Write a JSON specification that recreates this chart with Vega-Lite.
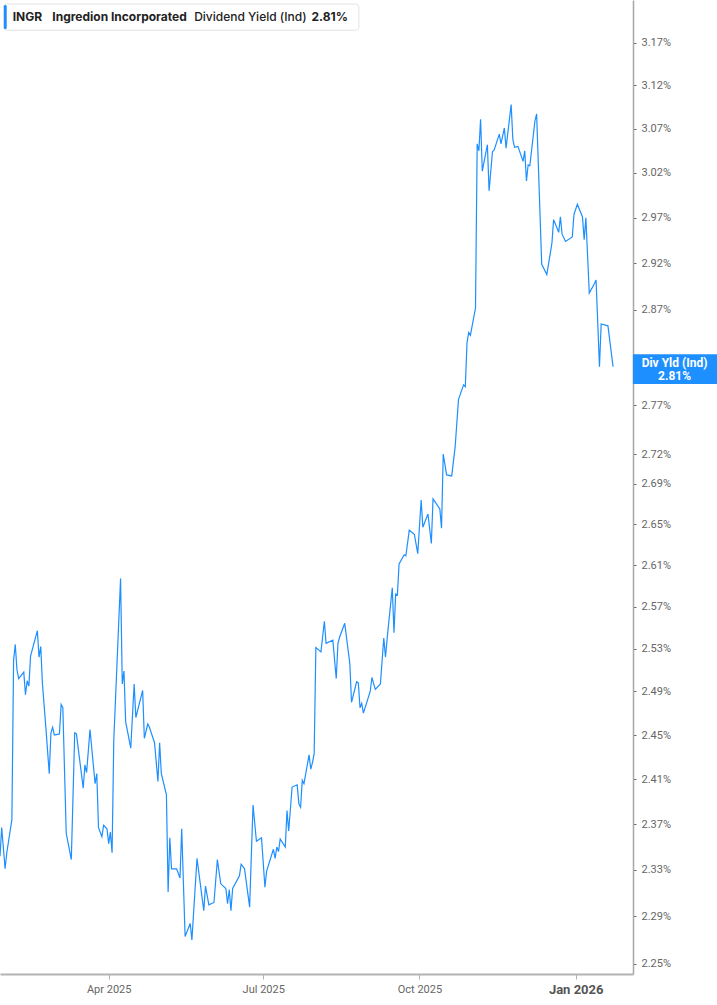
{
  "$schema": "https://vega.github.io/schema/vega-lite/v6.json",
  "width": 633,
  "height": 974,
  "autosize": "none",
  "padding": {"left": 0, "top": 0, "right": 84, "bottom": 31},
  "background": "white",
  "config": {"view": {"stroke": null}, "font": "Roboto"},
  "datasets": {
    "yield": [
      {"d": "2025-01-27", "v": 2.342}, {"d": "2025-01-28", "v": 2.367}, {"d": "2025-01-30", "v": 2.331},
      {"d": "2025-01-31", "v": 2.345}, {"d": "2025-02-03", "v": 2.374}, {"d": "2025-02-04", "v": 2.519},
      {"d": "2025-02-05", "v": 2.534}, {"d": "2025-02-06", "v": 2.510}, {"d": "2025-02-07", "v": 2.502},
      {"d": "2025-02-10", "v": 2.508}, {"d": "2025-02-11", "v": 2.487}, {"d": "2025-02-12", "v": 2.500},
      {"d": "2025-02-13", "v": 2.495}, {"d": "2025-02-14", "v": 2.523}, {"d": "2025-02-18", "v": 2.547},
      {"d": "2025-02-19", "v": 2.522}, {"d": "2025-02-20", "v": 2.532}, {"d": "2025-02-21", "v": 2.497},
      {"d": "2025-02-23", "v": 2.457}, {"d": "2025-02-25", "v": 2.415}, {"d": "2025-02-26", "v": 2.452},
      {"d": "2025-02-27", "v": 2.457}, {"d": "2025-02-28", "v": 2.450}, {"d": "2025-03-03", "v": 2.451},
      {"d": "2025-03-04", "v": 2.478}, {"d": "2025-03-05", "v": 2.475}, {"d": "2025-03-07", "v": 2.362},
      {"d": "2025-03-10", "v": 2.339}, {"d": "2025-03-12", "v": 2.452}, {"d": "2025-03-13", "v": 2.451},
      {"d": "2025-03-17", "v": 2.402}, {"d": "2025-03-18", "v": 2.423}, {"d": "2025-03-19", "v": 2.416},
      {"d": "2025-03-21", "v": 2.455}, {"d": "2025-03-24", "v": 2.406}, {"d": "2025-03-25", "v": 2.415},
      {"d": "2025-03-26", "v": 2.367}, {"d": "2025-03-28", "v": 2.359}, {"d": "2025-03-29", "v": 2.369},
      {"d": "2025-03-31", "v": 2.366}, {"d": "2025-04-01", "v": 2.353}, {"d": "2025-04-02", "v": 2.363},
      {"d": "2025-04-03", "v": 2.345}, {"d": "2025-04-04", "v": 2.445}, {"d": "2025-04-08", "v": 2.597},
      {"d": "2025-04-09", "v": 2.497}, {"d": "2025-04-10", "v": 2.509}, {"d": "2025-04-11", "v": 2.462},
      {"d": "2025-04-14", "v": 2.438}, {"d": "2025-04-16", "v": 2.497}, {"d": "2025-04-17", "v": 2.466},
      {"d": "2025-04-21", "v": 2.491}, {"d": "2025-04-22", "v": 2.447}, {"d": "2025-04-24", "v": 2.460},
      {"d": "2025-04-25", "v": 2.457}, {"d": "2025-04-28", "v": 2.443}, {"d": "2025-04-30", "v": 2.408},
      {"d": "2025-05-01", "v": 2.443}, {"d": "2025-05-02", "v": 2.415}, {"d": "2025-05-05", "v": 2.396},
      {"d": "2025-05-06", "v": 2.311}, {"d": "2025-05-07", "v": 2.358}, {"d": "2025-05-08", "v": 2.331},
      {"d": "2025-05-11", "v": 2.331}, {"d": "2025-05-13", "v": 2.323}, {"d": "2025-05-14", "v": 2.366},
      {"d": "2025-05-16", "v": 2.273}, {"d": "2025-05-19", "v": 2.284}, {"d": "2025-05-20", "v": 2.270},
      {"d": "2025-05-23", "v": 2.340}, {"d": "2025-05-27", "v": 2.295}, {"d": "2025-05-28", "v": 2.316},
      {"d": "2025-05-30", "v": 2.300}, {"d": "2025-06-02", "v": 2.302}, {"d": "2025-06-04", "v": 2.339},
      {"d": "2025-06-06", "v": 2.318}, {"d": "2025-06-09", "v": 2.314}, {"d": "2025-06-10", "v": 2.301},
      {"d": "2025-06-11", "v": 2.313}, {"d": "2025-06-12", "v": 2.295}, {"d": "2025-06-13", "v": 2.314},
      {"d": "2025-06-17", "v": 2.325}, {"d": "2025-06-18", "v": 2.335}, {"d": "2025-06-20", "v": 2.331},
      {"d": "2025-06-23", "v": 2.298}, {"d": "2025-06-25", "v": 2.387}, {"d": "2025-06-27", "v": 2.355},
      {"d": "2025-06-30", "v": 2.358}, {"d": "2025-07-02", "v": 2.315}, {"d": "2025-07-03", "v": 2.329},
      {"d": "2025-07-07", "v": 2.348}, {"d": "2025-07-08", "v": 2.340}, {"d": "2025-07-09", "v": 2.350},
      {"d": "2025-07-10", "v": 2.346}, {"d": "2025-07-11", "v": 2.357}, {"d": "2025-07-14", "v": 2.350},
      {"d": "2025-07-15", "v": 2.382}, {"d": "2025-07-16", "v": 2.364}, {"d": "2025-07-18", "v": 2.403},
      {"d": "2025-07-21", "v": 2.405}, {"d": "2025-07-22", "v": 2.388}, {"d": "2025-07-23", "v": 2.385},
      {"d": "2025-07-24", "v": 2.409}, {"d": "2025-07-25", "v": 2.406}, {"d": "2025-07-28", "v": 2.432},
      {"d": "2025-07-29", "v": 2.419}, {"d": "2025-07-30", "v": 2.425}, {"d": "2025-07-31", "v": 2.433},
      {"d": "2025-08-01", "v": 2.531}, {"d": "2025-08-04", "v": 2.527}, {"d": "2025-08-06", "v": 2.556},
      {"d": "2025-08-07", "v": 2.535}, {"d": "2025-08-11", "v": 2.538}, {"d": "2025-08-13", "v": 2.502},
      {"d": "2025-08-14", "v": 2.535}, {"d": "2025-08-15", "v": 2.541}, {"d": "2025-08-18", "v": 2.554},
      {"d": "2025-08-21", "v": 2.516}, {"d": "2025-08-22", "v": 2.480}, {"d": "2025-08-25", "v": 2.499},
      {"d": "2025-08-26", "v": 2.498}, {"d": "2025-08-27", "v": 2.475}, {"d": "2025-08-28", "v": 2.479},
      {"d": "2025-08-29", "v": 2.470}, {"d": "2025-09-02", "v": 2.490}, {"d": "2025-09-03", "v": 2.503},
      {"d": "2025-09-05", "v": 2.492}, {"d": "2025-09-08", "v": 2.497}, {"d": "2025-09-10", "v": 2.540},
      {"d": "2025-09-11", "v": 2.522}, {"d": "2025-09-12", "v": 2.540}, {"d": "2025-09-15", "v": 2.588},
      {"d": "2025-09-16", "v": 2.545}, {"d": "2025-09-17", "v": 2.582}, {"d": "2025-09-18", "v": 2.581},
      {"d": "2025-09-19", "v": 2.611}, {"d": "2025-09-22", "v": 2.620}, {"d": "2025-09-23", "v": 2.619},
      {"d": "2025-09-25", "v": 2.644}, {"d": "2025-09-28", "v": 2.640}, {"d": "2025-09-30", "v": 2.621},
      {"d": "2025-10-02", "v": 2.674}, {"d": "2025-10-03", "v": 2.647}, {"d": "2025-10-06", "v": 2.660},
      {"d": "2025-10-08", "v": 2.631}, {"d": "2025-10-09", "v": 2.675}, {"d": "2025-10-13", "v": 2.665},
      {"d": "2025-10-14", "v": 2.646}, {"d": "2025-10-15", "v": 2.720}, {"d": "2025-10-17", "v": 2.699},
      {"d": "2025-10-20", "v": 2.698}, {"d": "2025-10-22", "v": 2.727}, {"d": "2025-10-24", "v": 2.776},
      {"d": "2025-10-27", "v": 2.791}, {"d": "2025-10-28", "v": 2.789}, {"d": "2025-10-29", "v": 2.835},
      {"d": "2025-10-30", "v": 2.846}, {"d": "2025-10-31", "v": 2.843}, {"d": "2025-11-03", "v": 2.872},
      {"d": "2025-11-04", "v": 3.053}, {"d": "2025-11-05", "v": 3.045}, {"d": "2025-11-06", "v": 3.081},
      {"d": "2025-11-07", "v": 3.022}, {"d": "2025-11-10", "v": 3.052}, {"d": "2025-11-11", "v": 3.000},
      {"d": "2025-11-13", "v": 3.044}, {"d": "2025-11-14", "v": 3.046}, {"d": "2025-11-17", "v": 3.064},
      {"d": "2025-11-18", "v": 3.053}, {"d": "2025-11-20", "v": 3.071}, {"d": "2025-11-21", "v": 3.048},
      {"d": "2025-11-24", "v": 3.098}, {"d": "2025-11-25", "v": 3.058}, {"d": "2025-11-26", "v": 3.049},
      {"d": "2025-11-28", "v": 3.050}, {"d": "2025-12-01", "v": 3.033}, {"d": "2025-12-02", "v": 3.045},
      {"d": "2025-12-03", "v": 3.011}, {"d": "2025-12-04", "v": 3.029}, {"d": "2025-12-05", "v": 3.028},
      {"d": "2025-12-08", "v": 3.079}, {"d": "2025-12-09", "v": 3.087}, {"d": "2025-12-12", "v": 2.919},
      {"d": "2025-12-15", "v": 2.908}, {"d": "2025-12-18", "v": 2.942}, {"d": "2025-12-19", "v": 2.968},
      {"d": "2025-12-22", "v": 2.954}, {"d": "2025-12-23", "v": 2.971}, {"d": "2025-12-24", "v": 2.952},
      {"d": "2025-12-26", "v": 2.944}, {"d": "2025-12-30", "v": 2.949}, {"d": "2025-12-31", "v": 2.974},
      {"d": "2026-01-02", "v": 2.985}, {"d": "2026-01-05", "v": 2.971}, {"d": "2026-01-06", "v": 2.946},
      {"d": "2026-01-07", "v": 2.970}, {"d": "2026-01-09", "v": 2.888}, {"d": "2026-01-12", "v": 2.898},
      {"d": "2026-01-13", "v": 2.902}, {"d": "2026-01-15", "v": 2.810}, {"d": "2026-01-16", "v": 2.855},
      {"d": "2026-01-20", "v": 2.853}, {"d": "2026-01-23", "v": 2.810}
    ],
    "legendBox": [
      {"a": "2025-01-29T01:00:00Z", "b": "2025-08-26T07:00:00Z", "lo": 3.1848, "hi": 3.2159}
    ],
    "legendBar": [
      {"a": "2025-01-29T07:00:00Z", "b": "2025-01-30T23:00:00Z", "lo": 3.1860, "hi": 3.2147}
    ],
    "legendBold": [
      {"t": "INGR", "d": "2025-02-03T11:00:00Z"},
      {"t": "Ingredion Incorporated", "d": "2025-02-26T19:00:00Z"},
      {"t": "2.81%", "d": "2025-07-29T10:00:00Z"}
    ],
    "legendPlain": [
      {"t": "Dividend Yield (Ind)", "d": "2025-05-21T08:00:00Z"}
    ],
    "lastBox": [
      {"a": "2026-02-03T17:00:00Z", "b": "2026-03-28T00:00:00Z", "lo": 2.792, "hi": 2.823}
    ],
    "lastText": [
      {"t": "Div Yld (Ind)", "d": "2026-02-28T05:00:00Z", "v": 2.8138},
      {"t": "2.81%", "d": "2026-02-28T05:00:00Z", "v": 2.8002}
    ]
  },
  "layer": [
    {
      "data": {"name": "yield"},
      "mark": {"type": "line", "color": "#1e8fff", "strokeWidth": 1.2, "interpolate": "linear"},
      "encoding": {
        "x": {
          "field": "d",
          "type": "temporal",
          "title": null,
          "scale": {
            "type": "utc",
            "domain": [
              {"year": 2025, "month": 1, "date": 27, "utc": true},
              {"year": 2026, "month": 2, "date": 3, "hours": 18, "utc": true}
            ]
          },
          "axis": {
            "values": [
              {"year": 2025, "month": 4, "date": 1, "utc": true},
              {"year": 2025, "month": 7, "date": 1, "utc": true},
              {"year": 2025, "month": 10, "date": 1, "utc": true},
              {"year": 2026, "month": 1, "date": 1, "utc": true}
            ],
            "labelExpr": "utcFormat(datum.value, '%b %Y')",
            "grid": false,
            "domainColor": "#b3b3b3",
            "domainWidth": 2,
            "tickColor": "#b3b3b3",
            "tickSize": 5,
            "labelPadding": 4,
            "labelFont": "Roboto",
            "labelFontSize": {"condition": {"test": "utcmonth(datum.value) == 0", "value": 13}, "value": 11},
            "labelFontWeight": {"condition": {"test": "utcmonth(datum.value) == 0", "value": "bold"}, "value": "normal"},
            "labelColor": {"condition": {"test": "utcmonth(datum.value) == 0", "value": "#555555"}, "value": "#666666"}
          }
        },
        "y": {
          "field": "v",
          "type": "quantitative",
          "title": null,
          "scale": {"type": "log", "domain": [2.2415, 3.2208], "nice": false, "zero": false},
          "axis": {
            "orient": "right",
            "values": [2.25, 2.29, 2.33, 2.37, 2.41, 2.45, 2.49, 2.53, 2.57, 2.61, 2.65, 2.69, 2.72, 2.77, 2.87, 2.92, 2.97, 3.02, 3.07, 3.12, 3.17],
            "labelExpr": "format(datum.value, '.2f') + '%'",
            "grid": false,
            "domainColor": "#a6a6a6",
            "domainWidth": 1.5,
            "tickColor": "#666666",
            "tickSize": 3,
            "labelPadding": 5,
            "labelFont": "Roboto",
            "labelFontSize": 11,
            "labelColor": "#666666"
          }
        }
      }
    },
    {
      "data": {"name": "legendBox"},
      "mark": {"type": "rect", "fill": "white", "stroke": "#e3e3e3", "strokeWidth": 1, "cornerRadius": 3},
      "encoding": {
        "x": {"field": "a", "type": "temporal", "title": null},
        "x2": {"field": "b"},
        "y": {"field": "lo", "type": "quantitative", "title": null},
        "y2": {"field": "hi"}
      }
    },
    {
      "data": {"name": "legendBar"},
      "mark": {"type": "rect", "fill": "#1e8fff", "cornerRadius": 1.5},
      "encoding": {
        "x": {"field": "a", "type": "temporal", "title": null},
        "x2": {"field": "b"},
        "y": {"field": "lo", "type": "quantitative", "title": null},
        "y2": {"field": "hi"}
      }
    },
    {
      "data": {"name": "legendBold"},
      "mark": {"type": "text", "align": "left", "baseline": "middle", "font": "Inter", "fontSize": 12, "fontWeight": "bold", "color": "#222222"},
      "encoding": {
        "x": {"field": "d", "type": "temporal", "title": null},
        "y": {"datum": 3.2003, "type": "quantitative"},
        "text": {"field": "t"}
      }
    },
    {
      "data": {"name": "legendPlain"},
      "mark": {"type": "text", "align": "left", "baseline": "middle", "font": "Inter", "fontSize": 12, "fontWeight": 500, "color": "#222222"},
      "encoding": {
        "x": {"field": "d", "type": "temporal", "title": null},
        "y": {"datum": 3.2003, "type": "quantitative"},
        "text": {"field": "t"}
      }
    },
    {
      "data": {"name": "lastBox"},
      "mark": {"type": "rect", "fill": "#1e8fff"},
      "encoding": {
        "x": {"field": "a", "type": "temporal", "title": null},
        "x2": {"field": "b"},
        "y": {"field": "lo", "type": "quantitative", "title": null},
        "y2": {"field": "hi"}
      }
    },
    {
      "data": {"name": "lastText"},
      "mark": {"type": "text", "align": "center", "baseline": "middle", "font": "Roboto", "fontSize": 12, "fontWeight": "bold", "color": "white"},
      "encoding": {
        "x": {"field": "d", "type": "temporal", "title": null},
        "y": {"field": "v", "type": "quantitative", "title": null},
        "text": {"field": "t"}
      }
    }
  ]
}
